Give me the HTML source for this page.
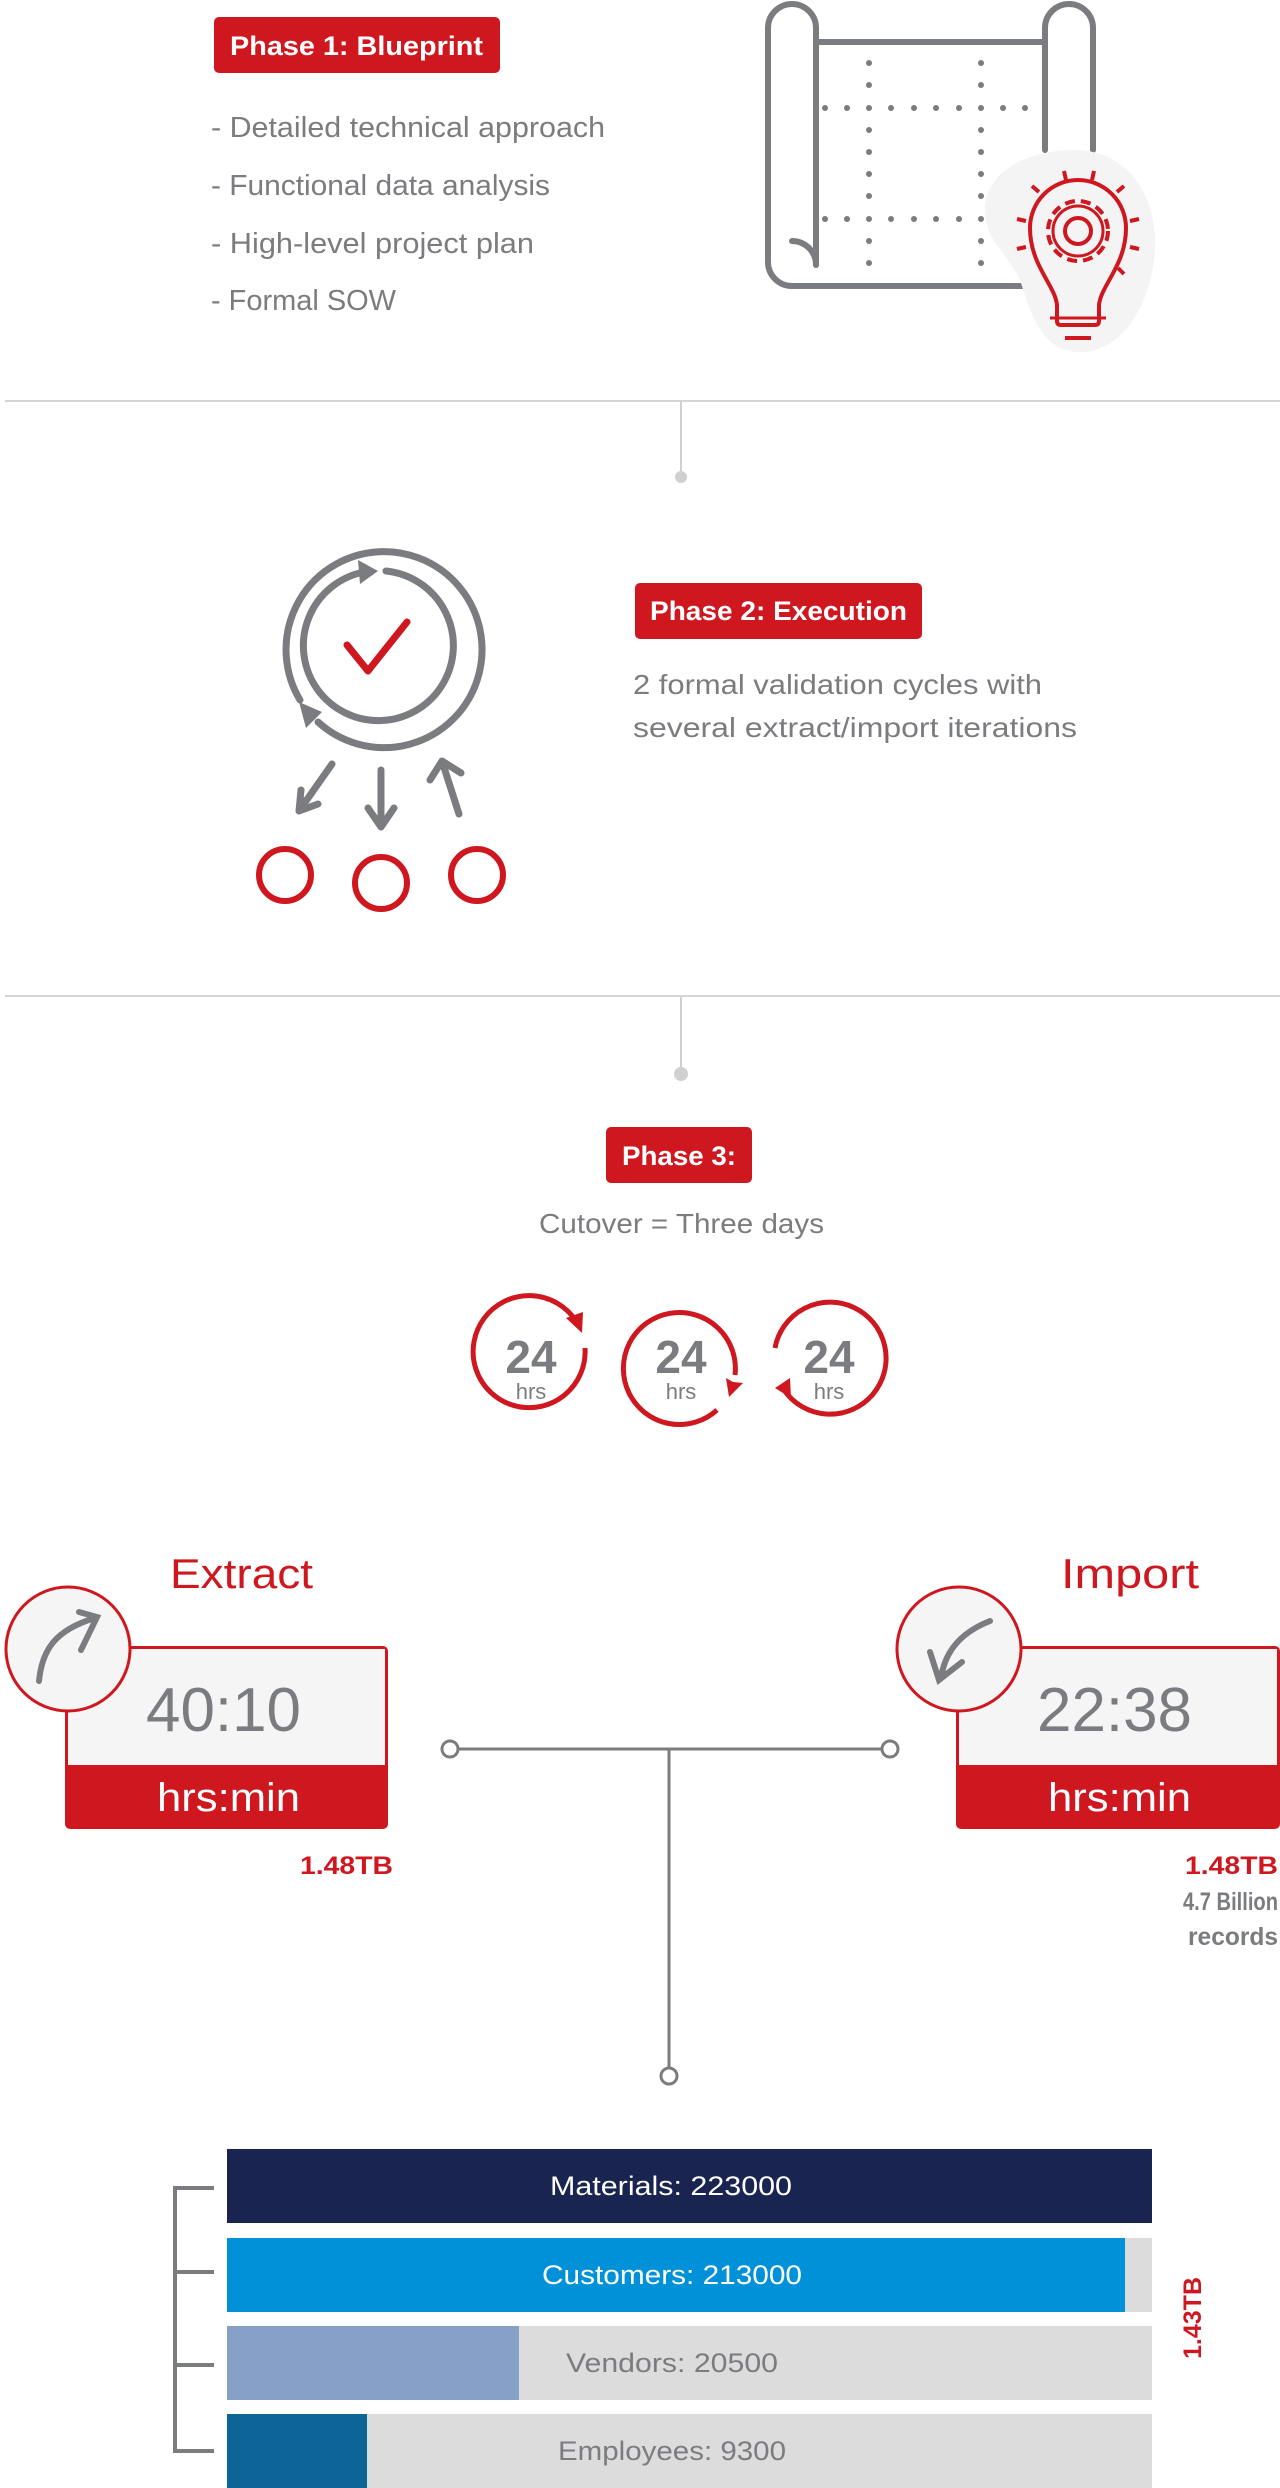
<!DOCTYPE html>
<html><head><meta charset="utf-8"><style>
html,body{margin:0;padding:0;background:#fff;}
svg{display:block;}
text{font-family:"Liberation Sans",sans-serif;}
</style></head><body>
<svg width="1280" height="2488" viewBox="0 0 1280 2488" xmlns="http://www.w3.org/2000/svg">
<!-- Phase 1 -->
<rect x="214" y="17" width="286" height="56" rx="5" fill="#cf171f"/>
<text x="230" y="55" font-size="27" font-weight="bold" fill="#fff" textLength="253" lengthAdjust="spacingAndGlyphs">Phase 1: Blueprint</text>
<g font-size="29" fill="#7b7c7f">
<text x="211" y="137" textLength="394" lengthAdjust="spacingAndGlyphs">- Detailed technical approach</text>
<text x="211" y="195" textLength="339" lengthAdjust="spacingAndGlyphs">- Functional data analysis</text>
<text x="211" y="253" textLength="323" lengthAdjust="spacingAndGlyphs">- High-level project plan</text>
<text x="211" y="310" textLength="185" lengthAdjust="spacingAndGlyphs">- Formal SOW</text>
</g>
<!-- blueprint scroll -->
<g stroke="#7b7c7f" stroke-width="6" fill="none" stroke-linecap="round">
<path d="M816 265 V28 a24 24 0 0 0 -48 0 V262 a24 24 0 0 0 24 24 H1025"/>
<path d="M816 265 a24 24 0 0 0 -24 -24"/>
<path d="M816 42 H1045"/>
<path d="M1045 150 V28 a24 24 0 0 1 48 0 V150"/>
</g>
<g fill="#7b7c7f">
<g id="col"><circle cx="869" cy="63" r="3"/><circle cx="869" cy="85" r="3"/><circle cx="869" cy="130" r="3"/><circle cx="869" cy="152" r="3"/><circle cx="869" cy="174" r="3"/><circle cx="869" cy="196" r="3"/><circle cx="869" cy="241" r="3"/><circle cx="869" cy="263" r="3"/></g>
<use href="#col" x="112"/>
<g id="row"><circle cx="825" cy="108" r="3"/><circle cx="847" cy="108" r="3"/><circle cx="869" cy="108" r="3"/><circle cx="891" cy="108" r="3"/><circle cx="914" cy="108" r="3"/><circle cx="936" cy="108" r="3"/><circle cx="959" cy="108" r="3"/><circle cx="981" cy="108" r="3"/><circle cx="1003" cy="108" r="3"/><circle cx="1025" cy="108" r="3"/></g>
<use href="#row" y="111"/>
</g>
<path d="M1075 150 C1130 150 1158 200 1155 250 C1152 300 1125 352 1080 352 C1040 352 1030 310 1020 280 C1005 250 985 240 985 210 C985 170 1030 150 1075 150Z" fill="#f4f4f4"/>
<g stroke="#cf171f" stroke-width="4" fill="none" stroke-linecap="butt">
<path d="M1057 321 V305 C1055 285 1030 265 1030 228 A48 48 0 0 1 1126 228 C1126 265 1101 285 1099 305 V321 Q1099 325 1095 325 H1061 Q1057 325 1057 321Z"/>
<path d="M1050 318 H1106" stroke-width="3"/>
<path d="M1065 338 H1091" stroke-width="4"/>
<circle cx="1078" cy="231" r="13"/>
<circle cx="1078" cy="231" r="30" stroke-dasharray="10 6"/>
<circle cx="1078" cy="231" r="25" stroke-width="3"/>
<path d="M1064 171 l2 9 M1094 171 l-2 9 M1032 186 l7 6 M1124 186 l-7 6 M1017 219 l9 2 M1139 219 l-9 2 M1017 249 l9 -2 M1139 249 l-9 -2 M1124 274 l-6 -6"/>
</g>
<!-- separator 1 -->
<rect x="5" y="400" width="1275" height="2" fill="#d5d5d5"/>
<rect x="680" y="402" width="2" height="72" fill="#d0d0d0"/>
<circle cx="681" cy="477" r="6" fill="#d0d0d0"/>
<!-- Phase 2 icon -->
<g stroke="#7b7c7f" stroke-width="7" fill="none" stroke-linecap="round">
<path d="M300 700 A98 98 0 1 1 318 722"/>
<path d="M386 571 A75 75 0 1 1 364 572"/>
<path d="M332 764 L299 811 M299 811 L301 790 M299 811 L318 804"/>
<path d="M381 770 V827 M381 827 L368 808 M381 827 L394 808"/>
<path d="M459 814 L442 761 M442 761 L430 780 M442 761 L461 773"/>
</g>
<path d="M378 571 L358 560 L360 584 Z" fill="#7b7c7f"/>
<path d="M299 702 L322 712 L306 728 Z" fill="#7b7c7f"/>
<path d="M347 645 L368 671 L407 622" stroke="#cf171f" stroke-width="7" fill="none" stroke-linecap="round" stroke-linejoin="round"/>
<g stroke="#cf171f" stroke-width="6" fill="none">
<circle cx="285" cy="875" r="26"/><circle cx="381" cy="883" r="26"/><circle cx="477" cy="875" r="26"/>
</g>
<rect x="635" y="583" width="287" height="56" rx="5" fill="#cf171f"/>
<text x="650" y="620" font-size="27" font-weight="bold" fill="#fff" textLength="257" lengthAdjust="spacingAndGlyphs">Phase 2: Execution</text>
<text x="633" y="694" font-size="28" fill="#7b7c7f" textLength="409" lengthAdjust="spacingAndGlyphs">2 formal validation cycles with</text>
<text x="633" y="737" font-size="28" fill="#7b7c7f" textLength="444" lengthAdjust="spacingAndGlyphs">several extract/import iterations</text>
<!-- separator 2 -->
<rect x="5" y="995" width="1275" height="2" fill="#d5d5d5"/>
<rect x="680" y="997" width="2" height="75" fill="#d0d0d0"/>
<circle cx="681" cy="1074" r="7" fill="#d0d0d0"/>
<!-- Phase 3 -->
<rect x="606" y="1127" width="146" height="56" rx="5" fill="#cf171f"/>
<text x="622" y="1165" font-size="27" font-weight="bold" fill="#fff" textLength="114" lengthAdjust="spacingAndGlyphs">Phase 3:</text>
<text x="539" y="1233" font-size="28" fill="#7b7c7f" textLength="285" lengthAdjust="spacingAndGlyphs">Cutover = Three days</text>
<g stroke="#cf171f" stroke-width="5" fill="none">
<path d="M585 1348 A56 56 0 1 1 576 1321"/>
<path d="M717 1410 A56 56 0 1 1 735 1375"/>
<path d="M775 1348 A56 56 0 1 1 784 1390"/>
</g>
<g fill="#cf171f">
<path d="M566 1318 L583 1312 L582 1333 Z"/>
<path d="M733 1382 L743 1383 L729 1397 L726 1378 Z"/>
<path d="M775 1388 L790 1378 L791 1398 Z"/>
</g>
<g fill="#7b7c7f" text-anchor="middle" font-weight="bold">
<text x="531" y="1373" font-size="46">24</text><text x="531" y="1399" font-size="22" font-weight="normal">hrs</text>
<text x="681" y="1373" font-size="46">24</text><text x="681" y="1399" font-size="22" font-weight="normal">hrs</text>
<text x="829" y="1373" font-size="46">24</text><text x="829" y="1399" font-size="22" font-weight="normal">hrs</text>
</g>
<!-- Extract / Import -->
<text x="170" y="1588" font-size="42" fill="#cf171f" textLength="143" lengthAdjust="spacingAndGlyphs">Extract</text>
<text x="1061" y="1588" font-size="42" fill="#cf171f" textLength="138" lengthAdjust="spacingAndGlyphs">Import</text>
<g>
<rect x="65" y="1646" width="323" height="183" rx="5" fill="#cf171f"/>
<rect x="68" y="1649" width="317" height="116" fill="#f5f5f5"/>
<text x="146" y="1731" font-size="62" fill="#7b7c7f" textLength="155" lengthAdjust="spacingAndGlyphs">40:10</text>
<text x="157" y="1811" font-size="40" fill="#fff" textLength="143" lengthAdjust="spacingAndGlyphs">hrs:min</text>
<circle cx="68" cy="1649" r="62" fill="#f5f5f5" stroke="#cf171f" stroke-width="3"/>
<path d="M39 1681 C42 1650 55 1630 95 1618 M79 1612 L97 1617 L81 1650" stroke="#7b7c7f" stroke-width="6" fill="none" stroke-linecap="round"/>
</g>
<g>
<rect x="956" y="1646" width="324" height="183" rx="5" fill="#cf171f"/>
<rect x="959" y="1649" width="318" height="116" fill="#f5f5f5"/>
<text x="1037" y="1731" font-size="62" fill="#7b7c7f" textLength="155" lengthAdjust="spacingAndGlyphs">22:38</text>
<text x="1048" y="1811" font-size="40" fill="#fff" textLength="143" lengthAdjust="spacingAndGlyphs">hrs:min</text>
<circle cx="959" cy="1649" r="62" fill="#f5f5f5" stroke="#cf171f" stroke-width="3"/>
<path d="M990 1621 C962 1632 945 1650 941 1678 M930 1652 L939 1680 L962 1662" stroke="#7b7c7f" stroke-width="6" fill="none" stroke-linecap="round"/>
</g>
<text x="300" y="1874" font-size="25" font-weight="bold" fill="#cf171f" textLength="93" lengthAdjust="spacingAndGlyphs">1.48TB</text>
<text x="1185" y="1874" font-size="25" font-weight="bold" fill="#cf171f" textLength="93" lengthAdjust="spacingAndGlyphs">1.48TB</text>
<text x="1183" y="1910" font-size="25" font-weight="bold" fill="#7b7c7f" textLength="95" lengthAdjust="spacingAndGlyphs">4.7 Billion</text>
<text x="1188" y="1945" font-size="25" font-weight="bold" fill="#7b7c7f" textLength="90" lengthAdjust="spacingAndGlyphs">records</text>
<!-- connectors -->
<g stroke="#7b7c7f" stroke-width="3" fill="#fff">
<path d="M457 1749 H883 M669 1749 V2068" fill="none"/>
<circle cx="450" cy="1749" r="8"/>
<circle cx="890" cy="1749" r="8"/>
<circle cx="669" cy="2076" r="8"/>
</g>
<!-- bars -->
<rect x="227" y="2149" width="925" height="74" fill="#1a2450"/>
<rect x="227" y="2238" width="925" height="74" fill="#dcdcdc"/>
<rect x="227" y="2238" width="898" height="74" fill="#0091d9"/>
<rect x="227" y="2326" width="925" height="74" fill="#dcdcdc"/>
<rect x="227" y="2326" width="292" height="74" fill="#86a0c8"/>
<rect x="227" y="2414" width="925" height="74" fill="#dcdcdc"/>
<rect x="227" y="2414" width="140" height="74" fill="#0d6496"/>
<g font-size="27">
<text x="550" y="2195" fill="#fff" textLength="242" lengthAdjust="spacingAndGlyphs">Materials: 223000</text>
<text x="542" y="2284" fill="#fff" textLength="260" lengthAdjust="spacingAndGlyphs">Customers: 213000</text>
<text x="566" y="2372" fill="#7b7c7f" textLength="212" lengthAdjust="spacingAndGlyphs">Vendors: 20500</text>
<text x="558" y="2460" fill="#7b7c7f" textLength="228" lengthAdjust="spacingAndGlyphs">Employees: 9300</text>
</g>
<path d="M214 2188 H175 V2451 H214 M175 2272 H214 M175 2365 H214" stroke="#7b7c7f" stroke-width="4" fill="none"/>
<text transform="translate(1201 2318) rotate(-90)" font-size="25" font-weight="bold" fill="#cf171f" text-anchor="middle">1.43TB</text>
</svg>
</body></html>
